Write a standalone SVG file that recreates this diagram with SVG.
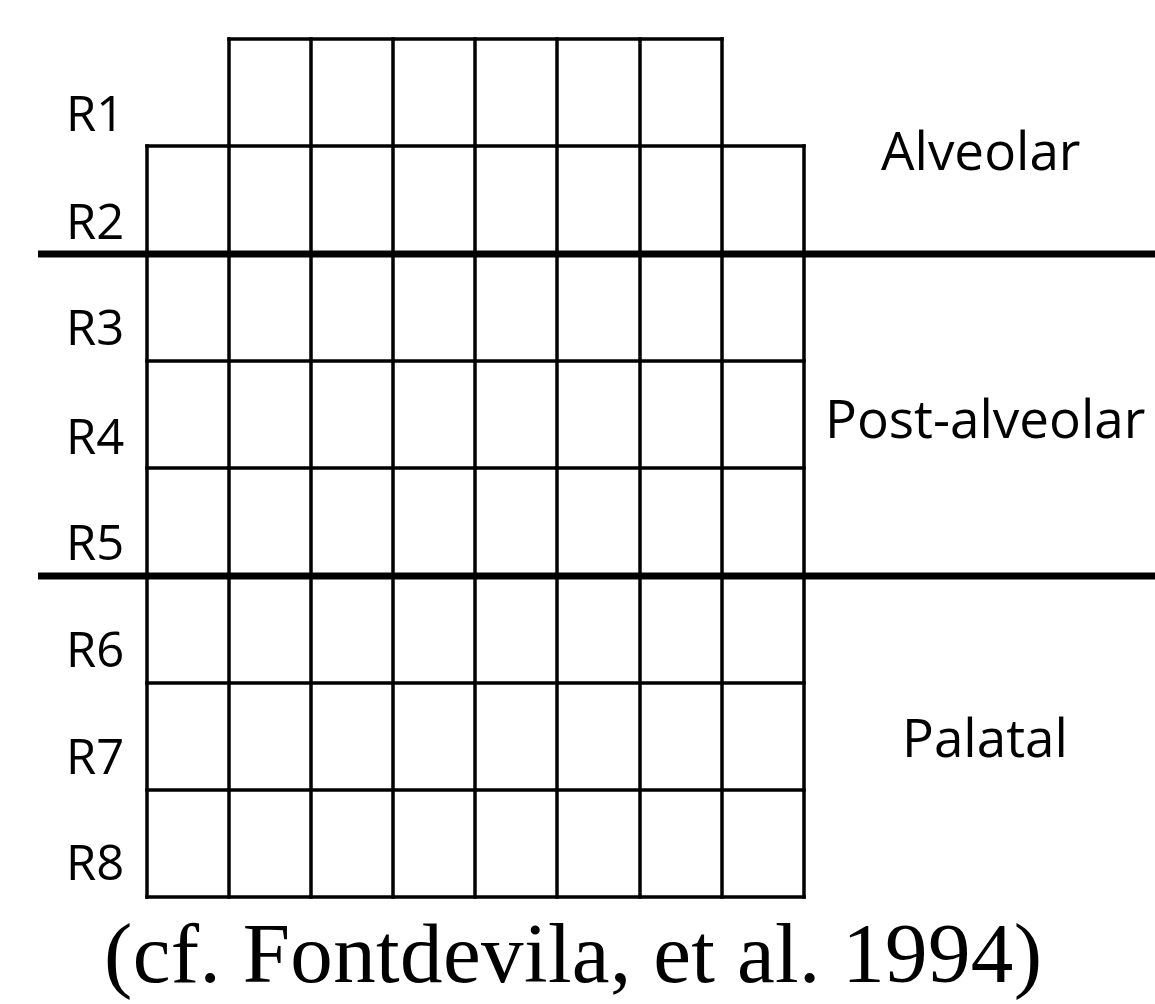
<svg xmlns="http://www.w3.org/2000/svg" width="1155" height="1004" viewBox="0 0 1155 1004">
  <style>
    .grid { stroke: #000; stroke-width: 3.5; fill: none; stroke-linecap: square; }
    .divider { stroke: #000; stroke-width: 7; }
    .row { font-family: "Open Sans", "Liberation Sans", sans-serif; font-size: 49px; fill: #000; }
    .zone { font-family: "Open Sans", "Liberation Sans", sans-serif; font-size: 53px; fill: #000; }
    .cite { font-family: "Liberation Serif", "DejaVu Serif", serif; font-size: 85px; fill: #000; }
  </style>
  <rect width="1155" height="1004" fill="#fff"/>

  <!-- electrode grid: 8 rows, top row has 6 cells, others 8 -->
  <g id="grid" class="grid">
    <!-- horizontals -->
    <line x1="229" y1="39" x2="722" y2="39"/>
    <line x1="147" y1="146" x2="804" y2="146"/>
    <line x1="147" y1="361" x2="804" y2="361"/>
    <line x1="147" y1="468" x2="804" y2="468"/>
    <line x1="147" y1="683" x2="804" y2="683"/>
    <line x1="147" y1="790" x2="804" y2="790"/>
    <line x1="147" y1="897" x2="804" y2="897"/>
    <!-- verticals -->
    <line x1="147" y1="146" x2="147" y2="897"/>
    <line x1="229" y1="39" x2="229" y2="897"/>
    <line x1="311" y1="39" x2="311" y2="897"/>
    <line x1="393" y1="39" x2="393" y2="897"/>
    <line x1="475" y1="39" x2="475" y2="897"/>
    <line x1="557" y1="39" x2="557" y2="897"/>
    <line x1="640" y1="39" x2="640" y2="897"/>
    <line x1="722" y1="39" x2="722" y2="897"/>
    <line x1="804" y1="146" x2="804" y2="897"/>
  </g>

  <!-- region boundaries -->
  <g id="dividers" class="divider">
    <line x1="38" y1="254" x2="1155" y2="254"/>
    <line x1="38" y1="576" x2="1155" y2="576"/>
  </g>

  <!-- row labels -->
  <g id="row-labels" class="row">
    <text x="66" y="131">R1</text>
    <text x="66" y="239">R2</text>
    <text x="66" y="345">R3</text>
    <text x="66" y="454">R4</text>
    <text x="66" y="560">R5</text>
    <text x="66" y="667">R6</text>
    <text x="66" y="774">R7</text>
    <text x="66" y="880">R8</text>
  </g>

  <!-- place-of-articulation zones -->
  <g id="zone-labels" class="zone">
    <text id="alveolar" x="881" y="170">Alveolar</text>
    <text id="post-alveolar" x="825" y="438">Post-alveolar</text>
    <text id="palatal" x="902" y="757">Palatal</text>
  </g>

  <text id="citation" class="cite" x="104" y="982" textLength="938" lengthAdjust="spacing">(cf. Fontdevila, et al. 1994)</text>
</svg>
